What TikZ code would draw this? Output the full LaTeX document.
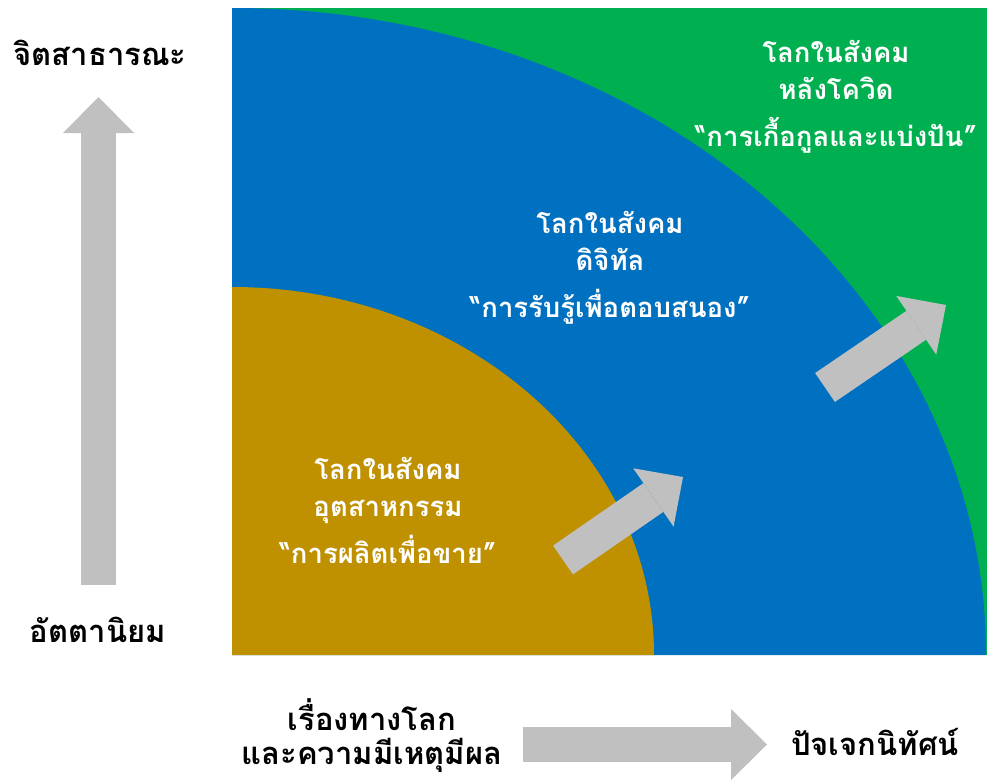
\documentclass[tikz,border=0pt]{standalone}
\usepackage{fontspec}
\newfontfamily\thaifont[Script=Thai]{Loma}
\usetikzlibrary{arrows.meta}

\definecolor{worldgreen}{HTML}{00B050}
\definecolor{worldblue}{HTML}{0070C0}
\definecolor{worldgold}{HTML}{BF9000}
\definecolor{arrowgray}{HTML}{C0C0C0}

\begin{document}
\begin{tikzpicture}[
    x=1pt, y=-1pt,
    axislabel/.style = {
        font=\thaifont\bfseries\fontsize{31}{34}\selectfont,
        text=black,
        inner sep=0pt,
        align=center
    },
    region/.style = {
        font=\thaifont\bfseries\fontsize{27.5}{37}\selectfont,
        text=white,
        align=center
    },
    bigarrow/.style = {
        draw=arrowgray,
        line width=35pt,
        -{Triangle[length=36pt, width=71pt, line width=0pt]}
    }
]
\useasboundingbox (0,0) rectangle (987,781);

% Quadrant areas
\fill[worldgreen] (232,8) rectangle (987,655);
\fill[worldblue] (232,655) -- (986,655) arc[start angle=0, end angle=-90, x radius=754, y radius=647] -- cycle;
\fill[worldgold] (232,655) -- (654,655) arc[start angle=0, end angle=-90, x radius=422, y radius=368] -- cycle;

% Axis labels
\node[axislabel] (public)  at (100,53)  {จิตสาธารณะ};
\node[axislabel] (self)    at (98,630)  {อัตตานิยม};
\node[axislabel] (secular) at (372,736) {เรื่องทางโลก\\และความมีเหตุมีผล};
\node[axislabel] (indiv)   at (875,742) {ปัจเจกนิทัศน์};

% Region texts
\node[region] (industry) at (388,510) {โลกในสังคม\\อุตสาหกรรม\\[10pt]“การผลิตเพื่อขาย”};
\node[region] (digital)  at (610,268) {โลกในสังคม\\ดิจิทัล\\[10pt]“การรับรู้เพื่อตอบสนอง”};
\node[region] (covid)    at (836,97)  {โลกในสังคม\\หลังโควิด\\[10pt]“การเกื้อกูลและแบ่งปัน”};

% Arrows
\coordinate (upS)    at (98.5,585);
\coordinate (upE)    at (98.5,97);
\coordinate (rightS) at (523,744.5);
\coordinate (rightE) at (767,744.5);
\coordinate (stepaS) at (563,560);
\coordinate (stepaE) at (683,477);
\coordinate (stepbS) at (825,387.5);
\coordinate (stepbE) at (946,305);

\draw[bigarrow] (upS) -- (upE);
\draw[bigarrow] (rightS) -- (rightE);
\draw[bigarrow] (stepaS) -- (stepaE);
\draw[bigarrow] (stepbS) -- (stepbE);

\end{tikzpicture}
\end{document}
